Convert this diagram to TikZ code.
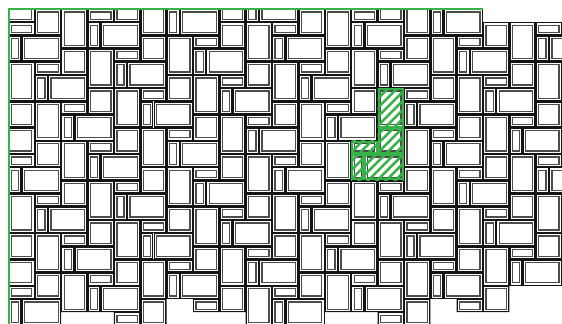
\documentclass[tikz,border=0pt]{standalone}
\definecolor{grn}{RGB}{55,178,72}
\tikzset{
  outerb/.style={draw=black!92,line width=1.25pt},
  innerb/.style={draw=black!70,line width=1.25pt},
  hatchline/.style={draw=grn,line width=2.6pt},
  hatchedge/.style={draw=grn,line width=2pt},
  domainline/.style={draw=grn,line width=2pt}
}
\newcommand\tl[4]{%
  \draw[outerb] ([xshift=0.65pt,yshift=-0.65pt]#1,#2) rectangle ([xshift=-0.65pt,yshift=0.65pt]#3,#4);
  \draw[innerb] ([xshift=3pt,yshift=-3pt]#1,#2) rectangle ([xshift=-3pt,yshift=3pt]#3,#4);}
\begin{document}
\begin{tikzpicture}[x=13.18pt,y=-13.18pt]
\useasboundingbox (-0.645,-0.683) rectangle (41.995,23.824);
\begin{scope}
\clip (0,0) -- (36,0) -- (36,1) -- (43,1) -- (43,21) -- (38,21) -- (38,23) -- (34,23)
  -- (34,22) -- (32,22) -- (32,25) -- (28,25) -- (28,23) -- (24,23) -- (24,25) -- (18,25)
  -- (18,23) -- (14,23) -- (14,22) -- (12,22) -- (12,25) -- (8,25) -- (8,23) -- (4,23)
  -- (4,25) -- (0,25) -- cycle;
\foreach \m in {-4,...,8}{
  \foreach \n in {-4,...,8}{
    \pgfmathtruncatemacro\px{4+2*\m+6*\n}
    \pgfmathtruncatemacro\py{8+3*\m-\n}
    \pgfmathtruncatemacro\ok{and(and(\px>-6,\px<46),and(\py>-7,\py<27))}
    \ifnum\ok=1
      \tl{\px}{\py}{\px+1}{\py+2}
      \tl{\px+1}{\py}{\px+4}{\py+2}
      \tl{\px-2}{\py+2}{\px}{\py+4}
      \tl{\px}{\py+2}{\px+2}{\py+5}
      \tl{\px+2}{\py+2}{\px+4}{\py+3}
    \fi
  }
}
\end{scope}
\foreach \a/\b/\c/\d in {28/6/30/9, 28/9/30/11, 26/10/28/11, 26/11/27/13, 27/11/30/13}{
  \begin{scope}
    \clip (\a,\b) rectangle (\c,\d);
    \foreach \k in {46,...,66}{
      \draw[hatchline] ({\k*0.683-15},15) -- ({\k*0.683-4},4);
    }
  \end{scope}
  \draw[hatchedge] ([xshift=1pt,yshift=-1pt]\a,\b) rectangle ([xshift=-1pt,yshift=1pt]\c,\d);
}
\draw[domainline] (0,25) -- (0,0) -- (36,0);
\end{tikzpicture}
\end{document}
